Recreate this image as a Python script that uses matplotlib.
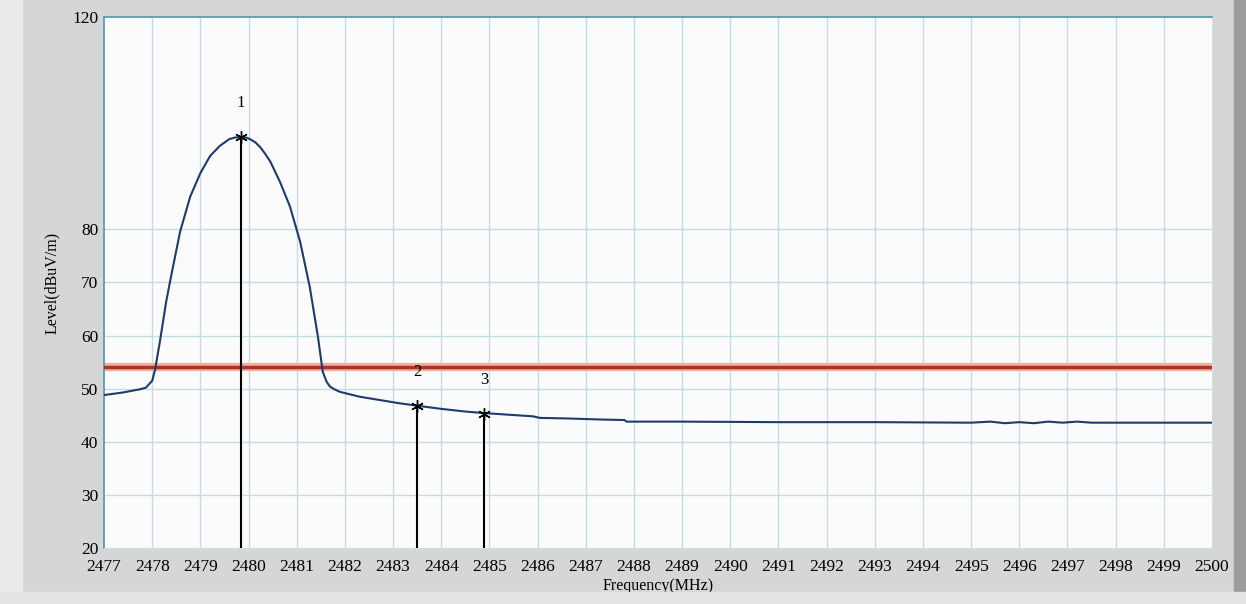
import matplotlib
matplotlib.use('Agg')
import matplotlib.pyplot as plt
from matplotlib.patches import Rectangle

# trace
freq = [2477.0, 2477.4, 2477.75, 2477.87, 2478.0, 2478.06, 2478.16, 2478.29, 2478.41,
        2478.58, 2478.79, 2479.0, 2479.2, 2479.4, 2479.6, 2479.72, 2479.84, 2479.95,
        2480.03, 2480.14, 2480.24, 2480.34,
        2480.45, 2480.65, 2480.86, 2481.07, 2481.27, 2481.44, 2481.54, 2481.62, 2481.69,
        2481.8, 2481.9,
        2482.3, 2482.7, 2483.1, 2483.5, 2484.0, 2484.5, 2484.9, 2485.4, 2485.9, 2486.05,
        2486.6, 2487.3, 2487.8, 2487.85, 2489.0, 2491.0, 2493.0, 2495.0, 2495.4, 2495.7,
        2496.0, 2496.3, 2496.6, 2496.9, 2497.2, 2497.5, 2498.0, 2499.0, 2500.0]
level = [48.8, 49.3, 49.9, 50.2, 51.5, 53.6, 58.9, 66.4, 72.0,
         79.6, 86.2, 90.6, 93.8, 95.7, 97.0, 97.3, 97.4, 97.3,
         97.0, 96.4, 95.5, 94.3,
         92.8, 89.0, 84.3, 77.7, 69.2, 59.8, 53.2, 51.3, 50.4,
         49.8, 49.4,
         48.5, 47.9, 47.3, 46.8, 46.2, 45.7, 45.4, 45.1, 44.8, 44.5,
         44.4, 44.2, 44.1, 43.8, 43.8, 43.7, 43.7, 43.6, 43.8, 43.5,
         43.7, 43.5, 43.8, 43.6, 43.8, 43.6, 43.6, 43.6, 43.6]

mk_freq = [2479.84, 2483.50, 2484.89]
mk_level = [97.4, 46.8, 45.3]
mk_label = ['1', '2', '3']

limit = 54

xticks = list(range(2477, 2501))
yticks = [20, 30, 40, 50, 60, 70, 80, 120]
hgrid = [30, 40, 50, 60, 70, 80]

serif = ['Liberation Serif', 'DejaVu Serif']

fig = plt.figure(figsize=(12.46, 6.04), dpi=100, facecolor='#d5d6d8')
# window frame strips
fig.patches.append(Rectangle((0, 0), 0.018, 1, transform=fig.transFigure, color='#ebebeb', zorder=0))
fig.patches.append(Rectangle((0.99, 0), 0.01, 1, transform=fig.transFigure, color='#9c9c9c', zorder=0))
fig.patches.append(Rectangle((0, 0), 1, 0.02, transform=fig.transFigure, color='#e4e4e4', zorder=0))

ax = fig.add_axes([0.0835, 0.0927, 0.8892, 0.8792])
ax.set_facecolor('#fbfbfb')

for f in xticks[1:-1]:
    ax.axvline(f, color='#c3dde0', lw=1, zorder=1)
for v in hgrid:
    ax.axhline(v, color='#c3dde0', lw=1, zorder=1)

# limit line
ax.axhline(limit, color='#f0b0a0', lw=6, zorder=2)
ax.axhline(limit, color='#a8352a', lw=2.5, zorder=3)

ax.plot(freq, level, color='#1c3c6c', lw=1.5, zorder=4)

for f, v, t in zip(mk_freq, mk_level, mk_label):
    ax.vlines(f, 20, v, color='black', lw=1.5, zorder=5)
    ax.plot(f, v, marker=(6, 2, 0), color='black', ms=9, mew=1.0, zorder=6)
    ax.text(f, v + 4.8, t, ha='center', va='bottom', fontsize=12, family=serif)

ax.set_xlim(2477, 2500)
ax.set_ylim(20, 120)
ax.set_xticks(xticks)
ax.set_yticks(yticks)
ax.tick_params(length=0, labelsize=12.5)
ax.tick_params(axis='x', pad=8)
ax.tick_params(axis='y', pad=4)
for lab in ax.get_xticklabels() + ax.get_yticklabels():
    lab.set_family(serif)

for s in ['left', 'top']:
    ax.spines[s].set_color('#4f98aa')
    ax.spines[s].set_linewidth(1.2)
for s in ['right', 'bottom']:
    ax.spines[s].set_color('#d0e2e6')

ax.set_xlabel('Frequency(MHz)', fontsize=11.5, family=serif, labelpad=2)
ax.set_ylabel('Level(dBuV/m)', fontsize=11.5, family=serif)
ax.yaxis.set_label_coords(-0.04, 0.5)

fig.savefig('out.png', dpi=100, facecolor=fig.get_facecolor())
